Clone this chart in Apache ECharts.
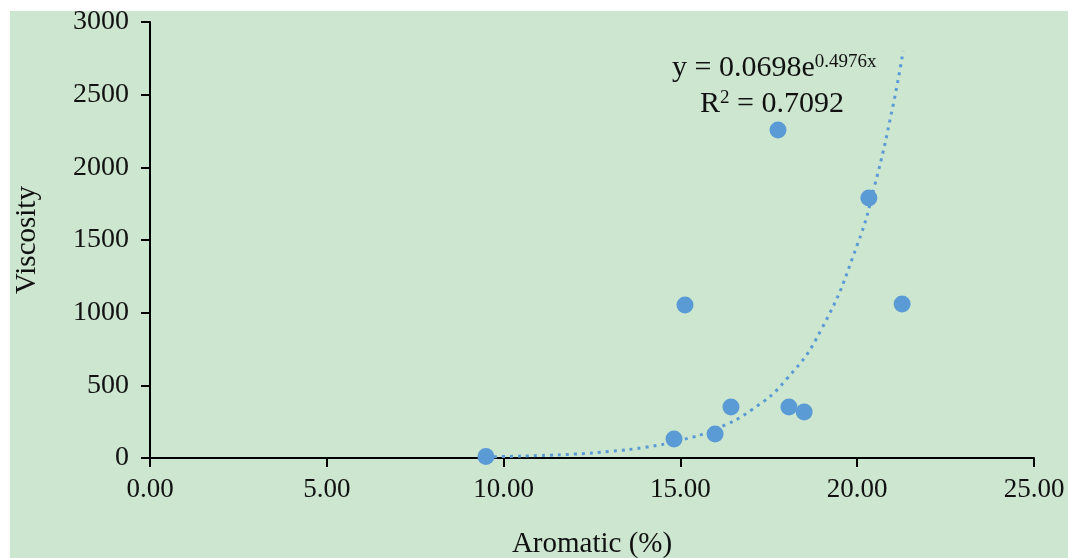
<!DOCTYPE html>
<html>
<head>
<meta charset="utf-8">
<script src="https://cdn.jsdelivr.net/npm/echarts@6/dist/echarts.min.js"></script>
<style>
  html, body { margin: 0; padding: 0; background: #ffffff; }
  #chart { position: absolute; left: 10px; top: 11px; width: 1058px; height: 547px; background: #cde6cf; }
</style>
</head>
<body>
<div id="chart"></div>
<script>
// 散点数据 (Aromatic %, Viscosity)
const aromatic = [9.50, 14.82, 15.13, 15.98, 16.43, 17.76, 18.07, 18.50, 20.33, 21.27]
const viscosity = [10, 131, 1053, 165, 351, 2257, 351, 317, 1789, 1060]

// 趋势线 (读自图中的点线)
const trendX = [9.5, 10, 11, 12, 13, 14, 15, 16, 17, 18, 19, 20, 20.5, 21, 21.3]
const trendY = [8, 10, 17, 27, 45, 74, 122, 200, 329, 542, 891, 1465, 1880, 2410, 2800]

const xTicks = [0, 5, 10, 15, 20, 25]
const yTicks = [0, 500, 1000, 1500, 2000, 2500, 3000]

const fontFamily = '"Liberation Serif", "Times New Roman", serif'
const textColor = '#111111'

const chart = echarts.init(document.getElementById('chart'))

chart.setOption({
  animation: false,
  grid: { left: 140, top: 11, right: 34, bottom: 100, outerBoundsMode: 'none', containLabel: false },
  xAxis: {
    type: 'value',
    min: xTicks[0],
    max: xTicks[xTicks.length - 1],
    interval: 5,
    name: 'Aromatic (%)',
    nameLocation: 'middle',
    nameGap: 72,
    nameTextStyle: { fontFamily, fontSize: 29, color: textColor },
    axisLine: { lineStyle: { color: '#000', width: 2 } },
    axisTick: { length: 9, lineStyle: { color: '#000', width: 2 } },
    axisLabel: {
      fontFamily, fontSize: 27, color: textColor, margin: 18,
      formatter: v => v.toFixed(2)
    },
    splitLine: { show: false }
  },
  yAxis: {
    type: 'value',
    min: yTicks[0],
    max: yTicks[yTicks.length - 1],
    interval: 500,
    name: 'Viscosity',
    nameLocation: 'middle',
    nameGap: 108,
    nameRotate: 90,
    nameTextStyle: { fontFamily, fontSize: 29, color: textColor },
    axisLine: { show: true, lineStyle: { color: '#000', width: 2 } },
    axisTick: { show: true, length: 9, lineStyle: { color: '#000', width: 2 } },
    axisLabel: { fontFamily, fontSize: 28, color: textColor, margin: 21, formatter: v => String(v) },
    splitLine: { show: false }
  },
  series: [
    {
      type: 'line',
      data: trendX.map((x, i) => [x, trendY[i]]),
      smooth: true,
      showSymbol: false,
      lineStyle: { color: '#5b9bd5', width: 3, type: [3, 5] },
      z: 1
    },
    {
      type: 'scatter',
      data: aromatic.map((x, i) => [x, viscosity[i]]),
      symbolSize: 17,
      itemStyle: { color: '#5b9bd5', opacity: 1 },
      z: 2
    }
  ],
  graphic: [
    {
      type: 'text',
      left: 662,
      top: 42,
      style: {
        text: 'y = 0.0698e{sup|0.4976x}',
        fontFamily, fontSize: 30, fill: textColor,
        rich: {
          sup: { fontFamily, fontSize: 19, fill: textColor, verticalAlign: 'top', lineHeight: 30 }
        }
      }
    },
    {
      type: 'text',
      left: 690,
      top: 78,
      style: {
        text: 'R{sup|2} = 0.7092',
        fontFamily, fontSize: 30, fill: textColor,
        rich: {
          sup: { fontFamily, fontSize: 19, fill: textColor, verticalAlign: 'top', lineHeight: 30 }
        }
      }
    }
  ]
})
</script>
</body>
</html>
